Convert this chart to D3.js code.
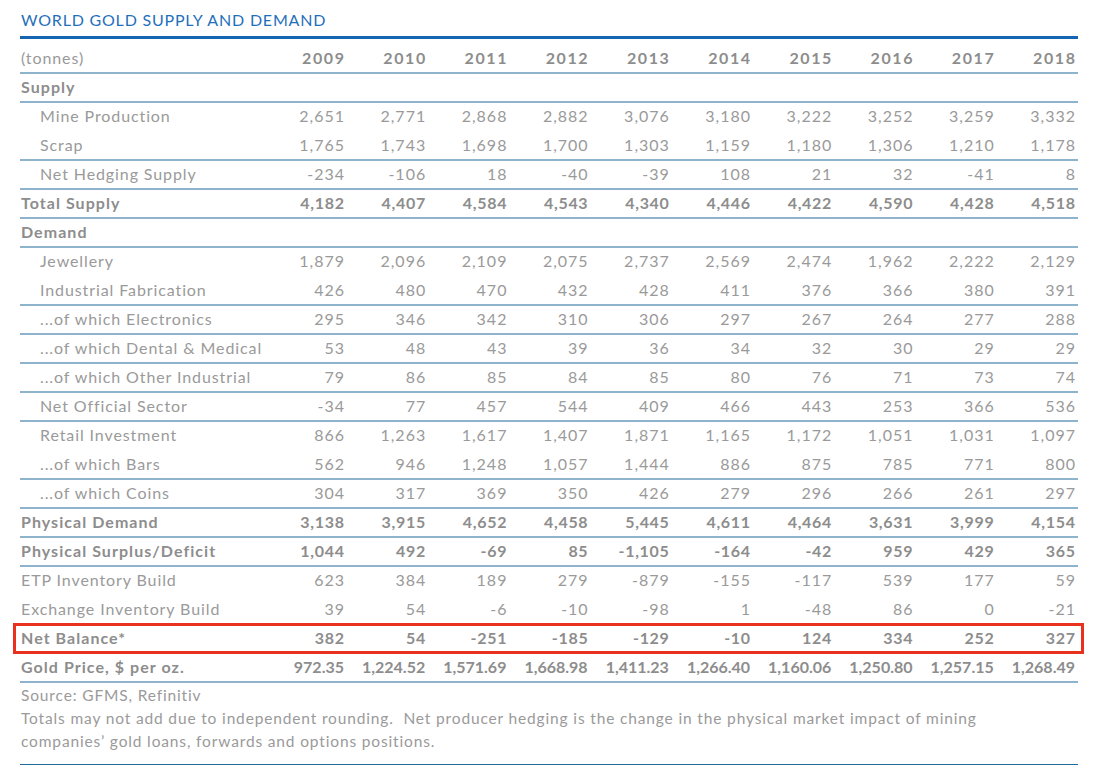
<!DOCTYPE html>
<html><head><meta charset="utf-8">
<script src="https://cdn.jsdelivr.net/npm/d3@7"></script>
<style>
html,body{margin:0;padding:0;background:#fff;}
svg{display:block;font-family:Lato, "Open Sans", sans-serif;}
</style></head>
<body><div id="chart"></div>
<script>
const years = ["2009","2010","2011","2012","2013","2014","2015","2016","2017","2018"];
const mineProduction = ["2,651","2,771","2,868","2,882","3,076","3,180","3,222","3,252","3,259","3,332"];
const scrap = ["1,765","1,743","1,698","1,700","1,303","1,159","1,180","1,306","1,210","1,178"];
const netHedging = ["-234","-106","18","-40","-39","108","21","32","-41","8"];
const totalSupply = ["4,182","4,407","4,584","4,543","4,340","4,446","4,422","4,590","4,428","4,518"];
const jewellery = ["1,879","2,096","2,109","2,075","2,737","2,569","2,474","1,962","2,222","2,129"];
const industrial = ["426","480","470","432","428","411","376","366","380","391"];
const electronics = ["295","346","342","310","306","297","267","264","277","288"];
const dental = ["53","48","43","39","36","34","32","30","29","29"];
const otherIndustrial = ["79","86","85","84","85","80","76","71","73","74"];
const netOfficial = ["-34","77","457","544","409","466","443","253","366","536"];
const retailInvestment = ["866","1,263","1,617","1,407","1,871","1,165","1,172","1,051","1,031","1,097"];
const bars = ["562","946","1,248","1,057","1,444","886","875","785","771","800"];
const coins = ["304","317","369","350","426","279","296","266","261","297"];
const physicalDemand = ["3,138","3,915","4,652","4,458","5,445","4,611","4,464","3,631","3,999","4,154"];
const surplusDeficit = ["1,044","492","-69","85","-1,105","-164","-42","959","429","365"];
const etpBuild = ["623","384","189","279","-879","-155","-117","539","177","59"];
const exchangeBuild = ["39","54","-6","-10","-98","1","-48","86","0","-21"];
const netBalance = ["382","54","-251","-185","-129","-10","124","334","252","327"];
const goldPrice = ["972.35","1,224.52","1,571.69","1,668.98","1,411.23","1,266.40","1,160.06","1,250.80","1,257.15","1,268.49"];

// label, values, bold, indent, line below
const rows = [
  ["(tonnes)", years, false, false, true],
  ["Supply", null, true, false, true],
  ["Mine Production", mineProduction, false, true, false],
  ["Scrap", scrap, false, true, true],
  ["Net Hedging Supply", netHedging, false, true, true],
  ["Total Supply", totalSupply, true, false, true],
  ["Demand", null, true, false, true],
  ["Jewellery", jewellery, false, true, false],
  ["Industrial Fabrication", industrial, false, true, true],
  ["...of which Electronics", electronics, false, true, true],
  ["...of which Dental & Medical", dental, false, true, true],
  ["...of which Other Industrial", otherIndustrial, false, true, true],
  ["Net Official Sector", netOfficial, false, true, true],
  ["Retail Investment", retailInvestment, false, true, false],
  ["...of which Bars", bars, false, true, true],
  ["...of which Coins", coins, false, true, true],
  ["Physical Demand", physicalDemand, true, false, true],
  ["Physical Surplus/Deficit", surplusDeficit, true, false, true],
  ["ETP Inventory Build", etpBuild, false, false, false],
  ["Exchange Inventory Build", exchangeBuild, false, false, false],
  ["Net Balance*", netBalance, true, false, false],
  ["Gold Price, $ per oz.", goldPrice, true, false, true]
];
const notes = [
  "Source: GFMS, Refinitiv",
  "Totals may not add due to independent rounding.  Net producer hedging is the change in the physical market impact of mining",
  "companies\u2019 gold loans, forwards and options positions."
];

const W = 1100, H = 773;
const svg = d3.select("#chart").append("svg").attr("width", W).attr("height", H);
const left = 20, right = 1078;
const x = d3.scalePoint().domain(years).range([344, 1075]);
const y = d3.scaleLinear().domain([0, rows.length - 1]).range([58, 667]);
const rowH = y(1) - y(0);
const textCol = "#9a9a9a", boldCol = "#8d8d8d", lineCol = "#1f6b9c";

svg.append("text").attr("x", 21).attr("y", 26)
  .attr("fill", "#1f70bb").attr("font-size", 16).attr("letter-spacing", 0.8)
  .text("WORLD GOLD SUPPLY AND DEMAND");
svg.append("rect").attr("x", left).attr("y", 36).attr("width", right - left).attr("height", 3).attr("fill", "#1565b3");

const g = svg.append("g");
rows.forEach((r, i) => {
  const [label, vals, bold, indent, line] = r;
  const cy = y(i);
  const isHeader = i === 0;
  const isPrice = label.startsWith("Gold Price");
  g.append("text").attr("x", indent ? 40 : 21).attr("y", cy).attr("dy", "0.36em")
    .attr("fill", bold ? boldCol : textCol).attr("font-size", 16)
    .attr("letter-spacing", bold ? 1.05 : 0.9)
    .attr("font-weight", bold ? 700 : 400).text(label);
  if (vals) {
    const ls = isHeader ? 1.6 : isPrice ? 0 : bold ? 0.7 : 1.0;
    g.selectAll(null).data(vals).enter().append("text")
      .attr("x", (d, j) => x(years[j]) + ls).attr("y", cy).attr("dy", "0.36em")
      .attr("text-anchor", "end").attr("fill", (bold || isHeader) ? boldCol : textCol).attr("font-size", 16)
      .attr("letter-spacing", ls)
      .attr("font-weight", (bold || isHeader) ? 700 : 400)
      .text(d => d);
  }
  if (line) {
    g.append("line").attr("x1", left).attr("x2", right)
      .attr("y1", cy + rowH / 2 + 0.5).attr("y2", cy + rowH / 2 + 0.5)
      .attr("stroke", lineCol).attr("stroke-width", 1.2);
  }
});

// highlight box around Net Balance
const nb = rows.findIndex(r => r[0] === "Net Balance*");
svg.append("rect").attr("x", 14.5).attr("y", y(nb) - 13.5)
  .attr("width", 1068).attr("height", 28)
  .attr("fill", "none").attr("stroke", "#e8321f").attr("stroke-width", 3);

notes.forEach((t, i) => {
  svg.append("text").attr("x", 21).attr("y", 701 + i * 23)
    .attr("fill", textCol).attr("font-size", 15.5).attr("letter-spacing", 0.85)
    .style("white-space", "pre").text(t);
});
svg.append("line").attr("x1", left).attr("x2", right).attr("y1", 764.5).attr("y2", 764.5)
  .attr("stroke", lineCol).attr("stroke-width", 1.2);
</script></body></html>
